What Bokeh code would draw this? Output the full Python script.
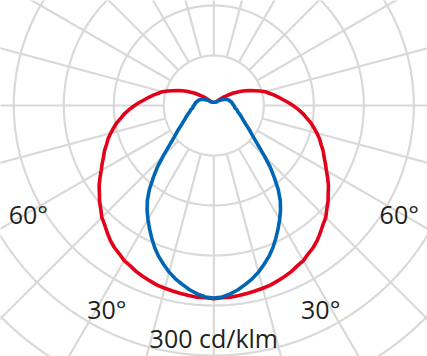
import numpy as np
from bokeh.plotting import figure
from bokeh.models import Range1d
from bokeh.core.properties import value
from bokeh.embed import file_html
from bokeh.resources import INLINE

# ---- data (cd/klm) ----
gamma = [0, 2.5, 5, 7.5, 10, 12.5, 15, 17.5, 20, 22.5, 25, 27.5, 30, 32.5, 35, 37.5, 40, 42.5,
         45, 47.5, 50, 52.5, 55, 57.5, 60, 62.5, 65, 67.5, 70, 72.5, 75, 77.5, 80, 82.5, 85, 87.5,
         90, 92.5, 95, 97.5, 100, 102.5, 105, 107.5, 110, 112.5, 115, 117.5, 120, 122.5, 125,
         127.5, 130, 135, 140, 150, 165, 180]
red_c0 = [232, 231, 231, 230, 229, 228, 227, 226, 224, 222, 220, 217, 215, 211, 208, 204, 199, 194,
          190, 184, 179, 173, 168, 162, 156, 151, 146, 142, 137, 133, 128, 123, 118, 112, 107, 101,
          95, 89, 83, 78, 73, 68, 64, 58, 52, 47, 42, 37, 32, 28, 23,
          19, 16, 11, 7, 5, 4, 4]
blue_c90 = [231, 230, 227, 223, 218, 213, 207, 200, 193, 185, 176, 167, 158, 149, 139, 127, 113, 100,
            86, 74, 65, 58, 53, 48, 44, 41, 38, 36, 34, 32, 30, 29, 28, 26, 25, 25,
            24, 23, 23, 22, 22, 21, 20, 20, 19, 18, 17, 16, 15, 13, 12,
            11, 10, 8, 6, 5, 4, 4]
ring_values = [60, 120, 180, 240, 300, 360]
spoke_angles = list(range(0, 360, 15))
label_angles = [60, 30]
label_texts = ["60°", "30°"]
scale_label = "300 cd/klm"

# ---- layout ----
S = 1.2  # cd/klm per pixel
W, H = 427, 356
cx, cy = 213.3, 105.0
p = figure(width=W, height=H, output_backend="svg", toolbar_location=None,
           x_range=Range1d(-cx * S, (W - cx) * S), y_range=Range1d(-(H - cy) * S, cy * S),
           min_border=0, background_fill_color="white", border_fill_color="white")
p.outline_line_color = None
p.axis.visible = False
p.grid.visible = False

grid_col = "#d9d9d9"
t = np.linspace(0, 2 * np.pi, 721)
p.multi_line(xs=[list(rv * np.cos(t)) for rv in ring_values],
             ys=[list(rv * np.sin(t)) for rv in ring_values],
             line_color=grid_col, line_width=2.2)
r0, r1 = ring_values[0], 460
sx, sy = [], []
for a in spoke_angles:
    ar = np.deg2rad(a)
    sx.append([r0 * np.sin(ar), r1 * np.sin(ar)])
    sy.append([-r0 * np.cos(ar), -r1 * np.cos(ar)])
p.multi_line(xs=sx, ys=sy, line_color=grid_col, line_width=2.2)


def curve(vals):
    g = np.deg2rad(np.array(gamma, dtype=float))
    r = np.array(vals, dtype=float)
    xl = -r * np.sin(g)
    yl = -r * np.cos(g)
    xs = np.concatenate([xl[::-1], -xl[1:]])
    ys = np.concatenate([yl[::-1], yl[1:]])
    return xs, ys


xr, yr = curve(red_c0)
p.line(xr, yr, line_color="#e2001a", line_width=3.6, line_join="round")
xb, yb = curve(blue_c90)
p.line(xb, yb, line_color="#0066b3", line_width=3.6, line_join="round")

# labels
label_r = {60: 215 * S, 30: 230 * S}
label_off = {60: -0.4, 30: -2.3}
lx, ly, lt = [], [], []
for a, txt in zip(label_angles, label_texts):
    ar = np.deg2rad(a + label_off[a])
    rr = label_r[a]
    for sgn in (-1, 1):
        lx.append(sgn * rr * np.sin(ar))
        ly.append(-rr * np.cos(ar))
        lt.append(txt)
p.text(x=lx, y=ly, text=lt, text_font=value("Open Sans"), text_font_size=value("25px"),
       text_align="center", text_baseline="middle", text_color="#231f20")
p.text(x=[0], y=[-(337 - cy) * S], text=[scale_label], text_font=value("Open Sans"),
       text_font_size=value("25px"), text_align="center", text_baseline="middle",
       text_color="#231f20")

open("out.html", "w").write(file_html(p, INLINE))
